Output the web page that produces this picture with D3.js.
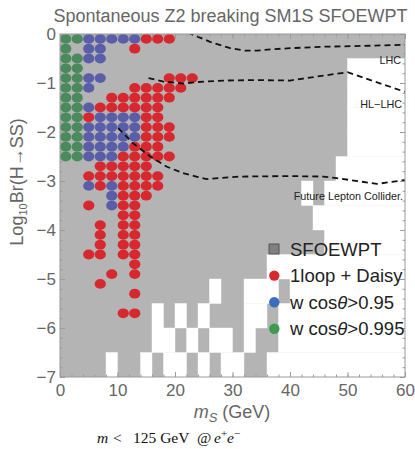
<!DOCTYPE html>
<html>
<head>
<meta charset="utf-8">
<script src="https://cdn.jsdelivr.net/npm/d3@7"></script>
<style>
  body { margin: 0; background: #fff; }
  svg { font-family: "Liberation Sans", Arial, sans-serif; }
</style>
</head>
<body>
<div id="chart"></div>
<script>
// ---- data ----
// dots: one entry per row of the scan grid (log10 Br value), x = m_S in GeV
const redRows = [
  { y: -0.1, x: [15, 17, 19] },
  { y: -0.3, x: [13] },
  { y: -0.9, x: [19, 21, 23] },
  { y: -1.1, x: [13, 15, 17, 19, 21] },
  { y: -1.3, x: [9, 11, 13, 15, 17, 19] },
  { y: -1.5, x: [7, 9, 11, 13, 15, 17] },
  { y: -1.7, x: [5, 15, 17] },
  { y: -1.9, x: [15, 17, 19] },
  { y: -2.1, x: [15, 17, 19] },
  { y: -2.3, x: [13, 15, 17] },
  { y: -2.5, x: [11, 13, 15, 17, 19] },
  { y: -2.7, x: [7, 9, 11, 13, 15] },
  { y: -2.9, x: [5, 7, 9, 11, 13, 15, 17] },
  { y: -3.1, x: [7, 11, 13, 15, 17] },
  { y: -3.3, x: [11, 13, 15] },
  { y: -3.5, x: [5, 11, 13] },
  { y: -3.7, x: [11, 13] },
  { y: -3.9, x: [7, 11, 13] },
  { y: -4.1, x: [7, 11, 13] },
  { y: -4.3, x: [7, 11, 13] },
  { y: -4.5, x: [5, 7, 11, 13] },
  { y: -4.7, x: [13] },
  { y: -4.9, x: [9, 13] },
  { y: -5.1, x: [7] },
  { y: -5.3, x: [13] },
  { y: -5.7, x: [11, 13] }
];
const blueRows = [
  { y: -0.1, x: [5, 7, 9, 11, 13] },
  { y: -0.3, x: [5, 7] },
  { y: -0.5, x: [5, 7] },
  { y: -0.9, x: [5, 7] },
  { y: -1.1, x: [5] },
  { y: -1.5, x: [5] },
  { y: -1.7, x: [7, 9, 11, 13] },
  { y: -1.9, x: [5, 7, 9, 11, 13] },
  { y: -2.1, x: [5, 7, 9, 11, 13] },
  { y: -2.3, x: [5, 7, 9, 11] },
  { y: -2.5, x: [5, 7, 9] },
  { y: -3.1, x: [5, 9] },
  { y: -3.3, x: [9] },
  { y: -3.5, x: [9] }
];
const greenRows = [
  { y: -0.1, x: [1, 3] },
  { y: -0.3, x: [1] },
  { y: -0.5, x: [1, 3] },
  { y: -0.7, x: [1, 3] },
  { y: -0.9, x: [1, 3] },
  { y: -1.1, x: [1, 3] },
  { y: -1.3, x: [1, 3] },
  { y: -1.5, x: [1, 3] },
  { y: -1.7, x: [1, 3] },
  { y: -1.9, x: [1, 3] },
  { y: -2.1, x: [1, 3] },
  { y: -2.3, x: [1, 3] },
  { y: -2.5, x: [1, 3] }
];

// SFOEWPT region: whole frame is grey except these white cells (row top, [x0, x1] in GeV)
const cellHeight = 0.5;
const whiteCells = [
  { top: -0.5, spans: [[50, 60]] },
  { top: -1.0, spans: [[50, 60]] },
  { top: -1.5, spans: [[50, 60]] },
  { top: -2.0, spans: [[50, 60]] },
  { top: -2.5, spans: [[48, 60]] },
  { top: -3.0, spans: [[42, 44], [46, 60]] },
  { top: -3.5, spans: [[44, 60]] },
  { top: -4.0, spans: [[46, 60]] },
  { top: -4.5, spans: [[36, 60]] },
  { top: -5.0, spans: [[26, 28], [32, 38], [40, 60]] },
  { top: -5.5, spans: [[16, 18], [20, 22], [24, 26], [32, 36], [38, 60]] },
  { top: -6.0, spans: [[16, 20], [22, 24], [26, 30], [32, 34], [38, 60]] },
  { top: -6.5, spans: [[8, 10], [14, 16], [18, 22], [24, 26], [28, 32], [36, 60]] }
];

// reach curves
const lhcCurve = [[22.2, 0.03], [26.1, -0.16], [29.6, -0.29], [32.2, -0.34], [34.2, -0.34],
  [37.1, -0.31], [40, -0.29], [45.7, -0.26], [53.9, -0.24], [60, -0.22]];
const hlLhcCurve = [[15.4, -0.90], [18, -0.97], [21.4, -1.01], [24, -0.98], [28.4, -0.95],
  [34.2, -0.94], [40, -0.95], [44.6, -0.87], [50, -0.78], [60, -1.18]];
const flcCurve = [[10.1, -1.92], [12.7, -2.23], [15.7, -2.50], [18.6, -2.71], [21.4, -2.84],
  [24, -2.92], [25.5, -2.96], [31.3, -2.91], [40, -2.90], [45.8, -2.91], [48.1, -2.94],
  [55.1, -3.06], [60, -2.98]];

const xMajor = [0, 10, 20, 30, 40, 50, 60];
const yMajor = [-7, -6, -5, -4, -3, -2, -1, 0];
const legendItems = ["SFOEWPT", "1loop + Daisy", "w cos\u03b8>0.95", "w cos\u03b8>0.995"];

// ---- drawing ----
const W = 415, H = 449;
const plot = { left: 60, right: 405, top: 34, bottom: 377 };

const svg = d3.select("#chart").append("svg")
  .attr("width", W)
  .attr("height", H);

const x = d3.scaleLinear().domain([0, 60]).range([plot.left, plot.right]);
const y = d3.scaleLinear().domain([-7, 0]).range([plot.bottom, plot.top]);

svg.append("clipPath").attr("id", "clip")
  .append("rect")
  .attr("x", plot.left).attr("y", plot.top)
  .attr("width", plot.right - plot.left).attr("height", plot.bottom - plot.top);

const gPlot = svg.append("g").attr("clip-path", "url(#clip)");

// grey region
gPlot.append("rect")
  .attr("x", x(0)).attr("y", y(0))
  .attr("width", x(60) - x(0)).attr("height", y(-7) - y(0))
  .attr("fill", "#b4b4b4");

const cells = whiteCells.flatMap(r => r.spans.map(s => ({ top: r.top, x0: s[0], x1: s[1] })));
gPlot.selectAll("rect.white")
  .data(cells)
  .join("rect")
  .attr("class", "white")
  .attr("x", d => x(d.x0))
  .attr("y", d => y(d.top))
  .attr("width", d => x(d.x1) - x(d.x0))
  .attr("height", d => y(d.top - cellHeight) - y(d.top))
  .attr("fill", "#fff")
  .attr("stroke", "#fff")
  .attr("stroke-width", 0.4);

// scan points
function drawDots(rows, color) {
  const pts = rows.flatMap(r => r.x.map(v => ({ x: v, y: r.y })));
  gPlot.append("g").selectAll("ellipse")
    .data(pts)
    .join("ellipse")
    .attr("cx", d => x(d.x))
    .attr("cy", d => y(d.y))
    .attr("rx", 5.6)
    .attr("ry", 4.9)
    .attr("fill", color);
}
drawDots(redRows, "#d6282e");
drawDots(blueRows, "#5a5ea8");
drawDots(greenRows, "#4a8a5c");

// dashed reach lines
const line = d3.line().x(d => x(d[0])).y(d => y(d[1]));
[lhcCurve, hlLhcCurve, flcCurve].forEach(c => {
  gPlot.append("path")
    .attr("d", line(c))
    .attr("fill", "none")
    .attr("stroke", "#111")
    .attr("stroke-width", 1.8)
    .attr("stroke-dasharray", "6,4");
});

const curveLabels = [
  { t: "LHC", xx: 401, yy: 64 },
  { t: "HL\u2212LHC", xx: 402, yy: 108 },
  { t: "Future Lepton Collider.", xx: 403, yy: 200 }
];
svg.selectAll("text.curve")
  .data(curveLabels)
  .join("text")
  .attr("class", "curve")
  .attr("x", d => d.xx)
  .attr("y", d => d.yy)
  .attr("text-anchor", "end")
  .attr("font-size", 10.8)
  .attr("fill", "#222")
  .text(d => d.t);

// frame ticks (inward, all four sides)
const frameColor = "#9a9a9a";
function styleAxis(g) {
  g.select(".domain").remove();
  g.selectAll(".tick line").attr("stroke", frameColor);
  g.selectAll(".tick text").attr("fill", "#666").attr("font-size", 17)
    .attr("font-family", "'Liberation Sans', Arial, sans-serif");
}
const xMinor = d3.range(0, 61, 2);
const yMinor = d3.range(-35, 1).map(v => v / 5);

svg.append("g").attr("transform", `translate(0,${plot.bottom})`)
  .call(d3.axisBottom(x).tickValues(xMinor).tickSize(-2.5).tickFormat(""))
  .call(styleAxis);
svg.append("g").attr("transform", `translate(0,${plot.bottom})`)
  .call(d3.axisBottom(x).tickValues(xMajor).tickSize(-5).tickPadding(7).tickFormat(d3.format("d")))
  .call(styleAxis);
svg.append("g").attr("transform", `translate(0,${plot.top})`)
  .call(d3.axisTop(x).tickValues(xMinor).tickSize(-2.5).tickFormat(""))
  .call(styleAxis);
svg.append("g").attr("transform", `translate(0,${plot.top})`)
  .call(d3.axisTop(x).tickValues(xMajor).tickSize(-5).tickFormat(""))
  .call(styleAxis);
svg.append("g").attr("transform", `translate(${plot.left},0)`)
  .call(d3.axisLeft(y).tickValues(yMinor).tickSize(-2.5).tickFormat(""))
  .call(styleAxis);
svg.append("g").attr("transform", `translate(${plot.left},0)`)
  .call(d3.axisLeft(y).tickValues(yMajor).tickSize(-5).tickPadding(4).tickFormat(d3.format("d")))
  .call(styleAxis);
svg.append("g").attr("transform", `translate(${plot.right},0)`)
  .call(d3.axisRight(y).tickValues(yMinor).tickSize(-2.5).tickFormat(""))
  .call(styleAxis);
svg.append("g").attr("transform", `translate(${plot.right},0)`)
  .call(d3.axisRight(y).tickValues(yMajor).tickSize(-5).tickFormat(""))
  .call(styleAxis);

svg.append("rect")
  .attr("x", plot.left).attr("y", plot.top)
  .attr("width", plot.right - plot.left).attr("height", plot.bottom - plot.top)
  .attr("fill", "none")
  .attr("stroke", frameColor)
  .attr("stroke-width", 1);

// legend
const legendColors = ["#808080", "#d6282e", "#3a6cc0", "#3d9a4e"];
const lg = svg.append("g");
legendItems.forEach((t, i) => {
  const cy = 249 + i * 26.6;
  if (i === 0) {
    lg.append("rect").attr("x", 269).attr("y", cy - 5).attr("width", 10).attr("height", 10)
      .attr("fill", legendColors[i]).attr("stroke", "#555").attr("stroke-width", 1);
  } else {
    lg.append("circle").attr("cx", 274.3).attr("cy", cy).attr("r", 5.2).attr("fill", legendColors[i]);
  }
  const tx = lg.append("text").attr("x", 290).attr("y", cy + 6.5)
    .attr("font-size", 18.5).attr("fill", "#222");
  if (i >= 2) {
    const parts = t.split("\u03b8");
    tx.append("tspan").text(parts[0]);
    tx.append("tspan").attr("font-style", "italic").text("\u03b8");
    tx.append("tspan").text(parts[1]);
  } else {
    tx.text(t);
  }
});

// title and axis labels
svg.append("text")
  .attr("x", 230.5).attr("y", 22)
  .attr("text-anchor", "middle")
  .attr("font-size", 18)
  .attr("fill", "#666")
  .text("Spontaneous Z2 breaking SM1S SFOEWPT");

const xl = svg.append("text")
  .attr("x", 232).attr("y", 418)
  .attr("text-anchor", "middle")
  .attr("font-size", 18)
  .attr("fill", "#666");
xl.append("tspan").attr("font-style", "italic").text("m");
xl.append("tspan").attr("font-style", "italic").attr("font-size", 13).attr("dy", 4).text("S");
xl.append("tspan").attr("dy", -4).text(" (GeV)");

const yl = svg.append("text")
  .attr("transform", "translate(23,182) rotate(-90)")
  .attr("text-anchor", "middle")
  .attr("font-size", 18)
  .attr("fill", "#666");
yl.append("tspan").text("Log");
yl.append("tspan").attr("font-size", 11).attr("dy", 4).text("10");
yl.append("tspan").attr("dy", -4).text("Br(H\u2192SS)");

// note under the chart
const note = svg.append("text")
  .attr("y", 443)
  .style("font-family", "'Liberation Serif', 'DejaVu Serif', serif")
  .attr("font-size", 15.5)
  .attr("fill", "#111");
note.append("tspan").attr("x", 97).attr("font-style", "italic").text("m");
note.append("tspan").attr("x", 113).text("<");
note.append("tspan").attr("x", 133).text("125 GeV");
note.append("tspan").attr("x", 197).text("@");
note.append("tspan").attr("x", 214).attr("font-style", "italic").text("e");
note.append("tspan").attr("font-size", 11).attr("dy", -6).text("+");
note.append("tspan").attr("dy", 6).attr("font-style", "italic").text("e");
note.append("tspan").attr("font-size", 11).attr("dy", -6).text("\u2212");
</script>
</body>
</html>
